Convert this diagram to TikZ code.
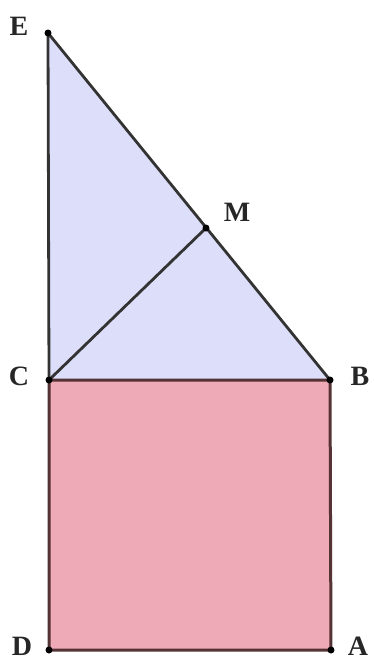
\documentclass[tikz,border=0pt]{standalone}
\usepackage{fontspec}
\setmainfont{Liberation Serif}
\begin{document}
\begin{tikzpicture}[x=1pt,y=-1pt,
  lbl/.style={font=\bfseries\fontsize{28}{28}\selectfont, text=black!85, inner sep=0pt},
  pt/.style={circle, fill=black, inner sep=0pt, minimum size=7pt}]
\useasboundingbox (0,0) rectangle (373,662);
\fill[white] (0,0) rectangle (373,662);
\coordinate (E) at (48,33);
\coordinate (M) at (206,228);
\coordinate (C) at (49,380);
\coordinate (B) at (330,380);
\coordinate (D) at (49,650);
\coordinate (A) at (331,650);
\definecolor{tri}{RGB}{221,223,250}
\definecolor{sq}{RGB}{238,170,182}
\definecolor{sqline}{RGB}{85,50,52}
\fill[tri] (E) -- (B) -- (C) -- cycle;
\fill[sq] (C) -- (B) -- (A) -- (D) -- cycle;
\draw[sqline, line width=3pt] (C) -- (B) -- (A) -- (D) -- cycle;
\draw[black!80, line width=2.8pt, line join=round] (C) -- (E) -- (B);
\draw[black!80, line width=2.8pt] (C) -- (M);
\foreach \p in {E,M,C,B,D,A} \node[pt] at (\p) {};
\node[lbl] (lE) at (19,26) {E};
\node[lbl] (lM) at (237,212) {M};
\node[lbl] (lC) at (19,376) {C};
\node[lbl] (lB) at (360,376) {B};
\node[lbl] (lD) at (22,646) {D};
\node[lbl] (lA) at (358,646) {A};
\end{tikzpicture}
\end{document}
